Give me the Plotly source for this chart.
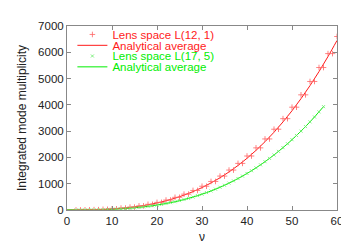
import plotly.graph_objects as go

# Lens space L(12,1): integrated multiplicity at each integer nu (step-like data)
nu_red = list(range(2, 61))
mult_red = [1, 1, 5, 5, 13, 13, 26, 26, 45, 45, 73, 73, 110, 110, 158, 158,
            217, 217, 290, 290, 378, 378, 482, 482, 603, 603, 744, 744, 904, 904,
            1086, 1086, 1290, 1290, 1519, 1519, 1773, 1773, 2054, 2054, 2364, 2364,
            2703, 2703, 3073, 3073, 3475, 3475, 3911, 3911, 4381, 4381, 4889, 4889,
            5420, 5420, 5950, 5950, 6600]

# Analytical average for L(12,1)
nu_avg_red = list(range(0, 61, 2))
avg_red = [0, 1, 4, 10, 21, 39, 64, 98, 142, 198, 267, 350, 449, 565, 699, 853,
           1029, 1226, 1448, 1694, 1967, 2268, 2598, 2958, 3351, 3776, 4236,
           4732, 5266, 5838, 6450]

# Lens space L(17,5): integrated multiplicity at each integer nu
nu_green = list(range(2, 58))
mult_green = [0, 1, 2, 4, 7, 10, 15, 20, 27, 35, 44, 55, 68, 83, 99, 118, 138,
              161, 187, 215, 246, 279, 315, 355, 397, 443, 492, 545, 601, 661,
              725, 793, 865, 941, 1022, 1107, 1197, 1291, 1390, 1494, 1603, 1718,
              1837, 1963, 2093, 2230, 2372, 2520, 2674, 2835, 3001, 3174, 3353,
              3539, 3732, 3932]

# Analytical average for L(17,5)
nu_avg_green = [0, 3, 6, 9, 12, 15, 18, 21, 24, 27, 30, 33, 36, 39, 42, 45, 48, 51, 54, 57]
avg_green = [0, 1, 7, 20, 44, 83, 138, 215, 315, 443, 601, 793, 1022, 1291, 1603,
             1963, 2372, 2835, 3353, 3932]

RED = "#ff1a1a"
GREEN = "#00ee00"
FONT = "Liberation Sans, Arial, Helvetica, sans-serif"

fig = go.Figure()
fig.add_trace(go.Scatter(x=nu_avg_red, y=avg_red, mode="lines", name="Analytical average",
                         line=dict(color=RED, width=1, shape="spline"),
                         legend="legend2"))
fig.add_trace(go.Scatter(x=nu_avg_green, y=avg_green, mode="lines", name="Analytical average",
                         line=dict(color=GREEN, width=1, shape="spline"),
                         legend="legend4"))
fig.add_trace(go.Scatter(x=nu_red, y=mult_red, mode="markers", name="Lens space L(12, 1)",
                         marker=dict(symbol="cross-thin", size=4, color=RED,
                                     line=dict(color="rgba(255,100,100,0.8)", width=1)),
                         legend="legend"))
fig.add_trace(go.Scatter(x=nu_green, y=mult_green, mode="markers", name="Lens space L(17, 5)",
                         marker=dict(symbol="x-thin", size=3, color=GREEN,
                                     line=dict(color="rgba(100,235,100,0.8)", width=1)),
                         legend="legend3"))

def leg(y, color):
    return dict(x=0.02, y=y, xanchor="left", yanchor="middle", bgcolor="rgba(0,0,0,0)",
                borderwidth=0, font=dict(family=FONT, size=11.5, color=color),
                itemclick=False, tracegroupgap=0)

fig.update_layout(
    width=349, height=245,
    margin=dict(l=59, r=20, t=14, b=35),
    paper_bgcolor="white", plot_bgcolor="white",
    font=dict(family=FONT, size=11.5, color="#222222"),
    showlegend=True,
    legend=leg(0.954, RED),
    legend2=leg(0.895, RED),
    legend3=leg(0.837, GREEN),
    legend4=leg(0.778, GREEN),
    xaxis=dict(range=[0, 60], tickvals=[0, 10, 20, 30, 40, 50, 60],
               showline=True, linecolor="#888888", linewidth=1, mirror="ticks",
               ticks="inside", ticklen=4, tickcolor="#888888", showgrid=False, zeroline=False,
               title=dict(text="ν", font=dict(family=FONT, size=12), standoff=6)),
    yaxis=dict(range=[0, 7000], tickvals=[0, 1000, 2000, 3000, 4000, 5000, 6000, 7000],
               showline=True, linecolor="#888888", linewidth=1, mirror="ticks",
               ticks="inside", ticklen=4, tickcolor="#888888", showgrid=False, zeroline=False,
               title=dict(text="Integrated mode multiplicity", font=dict(family=FONT, size=12),
                          standoff=8)),
)

fig.write_html("out.html")
